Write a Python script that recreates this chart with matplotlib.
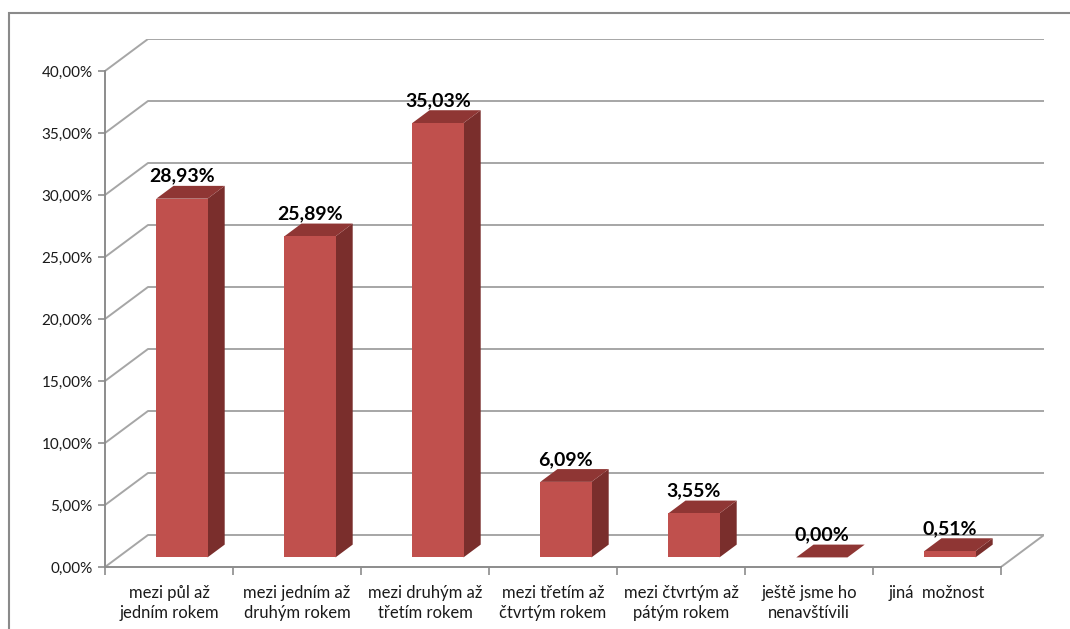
import matplotlib
matplotlib.use("Agg")
import matplotlib.pyplot as plt
from matplotlib.patches import Polygon, Rectangle
from matplotlib.ticker import FixedLocator, FuncFormatter, NullFormatter

plt.rcParams["font.family"] = ["Lato", "DejaVu Sans"]

categories = [
    "mezi půl až\njedním rokem",
    "mezi jedním až\ndruhým rokem",
    "mezi druhým až\ntřetím rokem",
    "mezi třetím až\nčtvrtým rokem",
    "mezi čtvrtým až\npátým rokem",
    "ještě jsme ho\nnenavštívili",
    "jiná  možnost",
]
values = [28.93, 25.89, 35.03, 6.09, 3.55, 0.00, 0.51]
y_ticks = [0, 5, 10, 15, 20, 25, 30, 35, 40]

W, H = 1070, 629
fig = plt.figure(figsize=(W / 100, H / 100), dpi=100)

# plot box in pixels: front floor edge 105..1001 at y=567, 40 % at y=71
X0, X1, YB, YT = 105, 1001, 567, 71
DEPTH_PX = (43, 32)              # back wall offset
n = len(categories)
ymax = y_ticks[-1]
DX = DEPTH_PX[0] / ((X1 - X0) / n)
DY = DEPTH_PX[1] / ((YB - YT) / ymax)

ax = fig.add_axes([X0 / W, (H - YB) / H,
                   (X1 + DEPTH_PX[0] - X0) / W, (YB - YT + DEPTH_PX[1]) / H])
ax.set_xlim(0, n + DX)
ax.set_ylim(0, ymax + DY)
ax.patch.set_visible(False)

grid_c = "#a6a6a6"
axis_c = "#8c8c8c"


def p(x, y, d):
    # point at depth d (0 = front, 1 = back wall)
    return (x + d * DX, y + d * DY)


# back wall gridlines + side wall diagonals
for t in y_ticks[1:]:
    xs, ys = zip(p(0, t, 0), p(0, t, 1), p(n, t, 1))
    ax.plot(xs, ys, color=grid_c, lw=1.4, zorder=1, solid_capstyle="butt")

# floor
xs, ys = zip(p(0, 0, 0), p(0, 0, 1), p(n, 0, 1), p(n, 0, 0))
ax.plot(xs, ys, color=grid_c, lw=1.4, zorder=1)

# bars as boxes between depth 0.3 and 0.7
bw = 0.4
d0, d1 = 0.3, 0.7
front_c, side_c, top_c = "#c0504d", "#7a2e2c", "#8f3634"
for i, v in enumerate(values):
    c = i + 0.5
    l, r = c - bw / 2, c + bw / 2
    ax.add_patch(Polygon([p(r, 0, d0), p(r, 0, d1), p(r, v, d1), p(r, v, d0)],
                         closed=True, fc=side_c, ec="none", zorder=3))
    ax.add_patch(Polygon([p(l, v, d0), p(r, v, d0), p(r, v, d1), p(l, v, d1)],
                         closed=True, fc=top_c, ec="none", zorder=3))
    if v > 0:
        ax.add_patch(Polygon([p(l, 0, d0), p(r, 0, d0), p(r, v, d0), p(l, v, d0)],
                             closed=True, fc=front_c, ec="none", zorder=4))
    lx, ly = p(c, v, d1)
    ax.text(lx - (d1 - d0) * DX, ly + 0.1, f"{v:.2f}%".replace(".", ","),
            ha="center", va="bottom", fontsize=14, fontweight="bold",
            color="black", zorder=5)

# axes
for s in ("top", "right"):
    ax.spines[s].set_visible(False)
ax.spines["left"].set_bounds(0, ymax)
ax.spines["bottom"].set_bounds(0, n)
for s in ("left", "bottom"):
    ax.spines[s].set_color(axis_c)
    ax.spines[s].set_linewidth(1.4)

ax.set_yticks(y_ticks)
ax.yaxis.set_major_formatter(FuncFormatter(lambda t, _: f"{t:.2f}%".replace(".", ",")))
ax.tick_params(axis="y", length=5, width=1.2, color=axis_c, labelsize=11,
               pad=4, labelcolor="#1a1a1a")

ax.xaxis.set_major_locator(FixedLocator(range(n + 1)))
ax.xaxis.set_major_formatter(NullFormatter())
ax.xaxis.set_minor_locator(FixedLocator([i + 0.5 for i in range(n)]))
ax.set_xticklabels(categories, minor=True)
ax.tick_params(axis="x", which="major", length=6, width=1.2, color=axis_c)
ax.tick_params(axis="x", which="minor", length=0, labelsize=12, pad=13,
               labelcolor="#1a1a1a")
for lab in ax.get_xticklabels(minor=True):
    lab.set_linespacing(1.3)
    lab.set_verticalalignment("top")

# chart frame
fig.patches.append(Rectangle((9 / W, -0.1), 1.2, (H - 13) / H + 0.1,
                             transform=fig.transFigure, fill=False,
                             ec="#8a8a8a", lw=1.5))

fig.savefig("out.png", dpi=100)
